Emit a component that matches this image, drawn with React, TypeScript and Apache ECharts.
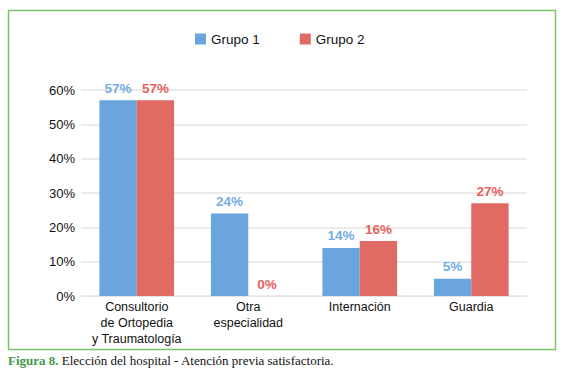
import React, { useEffect, useRef } from "react";
import * as echarts from "echarts";

const categories = ["Consultorio\nde Ortopedia\ny Traumatología", "Otra\nespecialidad", "Internación", "Guardia"];
const grupo1 = [57, 24, 14, 5];
const grupo2 = [57, 0, 16, 27];
const yTicks = [0, 10, 20, 30, 40, 50, 60];
const seriesNames = ["Grupo 1", "Grupo 2"];
const captionLead = "Figura 8.";
const captionRest = "Elección del hospital - Atención previa satisfactoria.";

const BLUE = "#6aa5dd";
const RED = "#e06a64";
const BLUE_LABEL = "#74aee2";
const RED_LABEL = "#e5625c";

export default function App() {
  const ref = useRef<HTMLDivElement>(null);
  useEffect(() => {
    if (!ref.current) return;
    const chart = echarts.init(ref.current, null, { renderer: "svg" });
    const font = "Liberation Sans, Arial, Helvetica, sans-serif";
    chart.setOption({
      animation: false,
      backgroundColor: "#ffffff",
      textStyle: { fontFamily: font },
      legend: {
        data: seriesNames,
        top: 27,
        left: 190,
        itemWidth: 11,
        itemHeight: 11,
        itemGap: 40,
        icon: "rect",
        textStyle: { fontSize: 13.5, color: "#111", fontFamily: font },
      },
      grid: { left: 81, right: 40, top: 90, bottom: 82, containLabel: false },
      xAxis: {
        type: "category",
        data: categories,
        axisTick: { show: false },
        axisLine: { show: true, lineStyle: { color: "#e4e4e4", width: 1 } },
        axisLabel: { fontSize: 12.5, color: "#111", lineHeight: 16, margin: 3, interval: 0, fontFamily: font },
      },
      yAxis: {
        type: "value",
        min: 0,
        max: 60,
        interval: 10,
        axisLabel: {
          formatter: (v: number) => (yTicks.includes(v) ? v + "%" : ""),
          fontSize: 13,
          color: "#111",
          margin: 6,
          fontFamily: font,
        },
        splitLine: { lineStyle: { color: "#e4e4e4", width: 1.5 } },
        axisLine: { show: false },
        axisTick: { show: false },
      },
      series: [
        {
          name: seriesNames[0],
          type: "bar",
          data: grupo1,
          barGap: "0%",
          barCategoryGap: "33%",
          itemStyle: { color: BLUE },
          label: {
            show: true,
            position: "top",
            distance: 5,
            formatter: "{c}%",
            color: BLUE_LABEL,
            fontSize: 13.5,
            fontWeight: "bold",
            fontFamily: font,
          },
        },
        {
          name: seriesNames[1],
          type: "bar",
          data: grupo2,
          itemStyle: { color: RED },
          label: {
            show: true,
            position: "top",
            distance: 5,
            formatter: "{c}%",
            color: RED_LABEL,
            fontSize: 13.5,
            fontWeight: "bold",
            fontFamily: font,
          },
        },
      ],
      graphic: [
        {
          type: "rect",
          shape: { x: 8.5, y: 10.5, width: 547, height: 339 },
          style: { fill: "none", stroke: "#7dbf6c", lineWidth: 1.5 },
          silent: true,
          z: -1,
        },
        {
          type: "text",
          left: 8,
          top: 354,
          style: {
            text: "{a|" + captionLead + "} {b|" + captionRest + "}",
            rich: {
              a: { fill: "#3f9a48", fontWeight: "bold", fontSize: 13, fontFamily: "'Liberation Serif', 'DejaVu Serif', serif" },
              b: { fill: "#111", fontSize: 13, fontFamily: "'Liberation Serif', 'DejaVu Serif', serif" },
            },
            font: "13px 'Liberation Serif', serif",
          },
        },
      ],
    });
    return () => chart.dispose();
  }, []);
  return <div ref={ref} style={{ position: "fixed", left: 0, top: 0, width: 567, height: 378 }} />;
}
